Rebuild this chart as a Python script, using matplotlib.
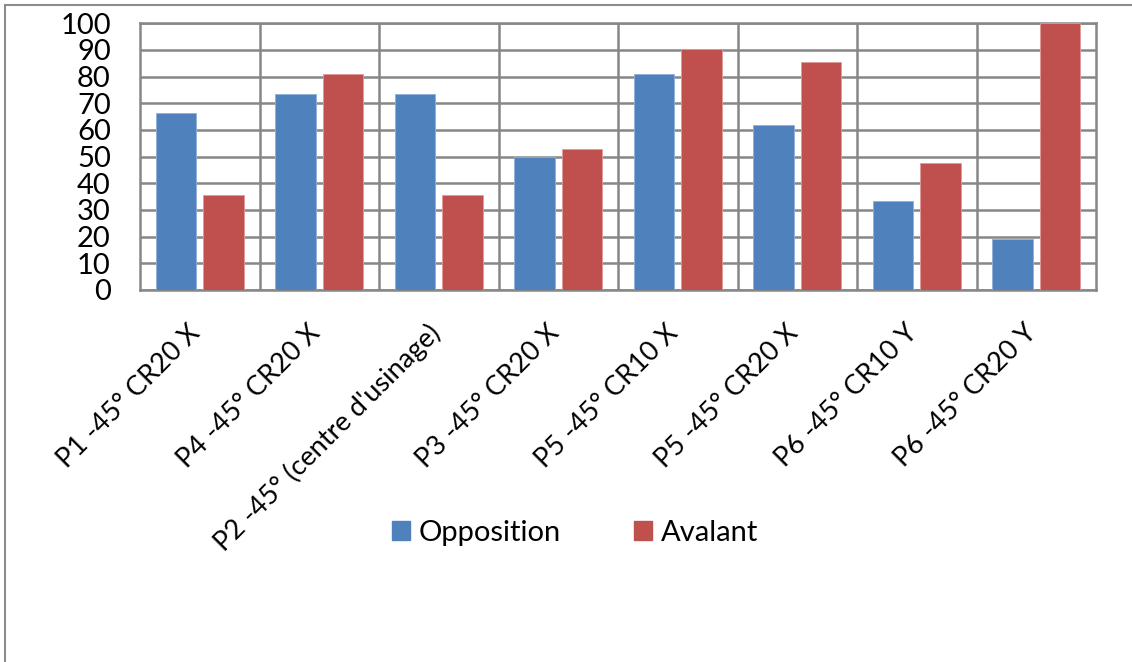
import matplotlib
matplotlib.use("Agg")
import matplotlib.pyplot as plt
import matplotlib.transforms as mtransforms
import numpy as np
from matplotlib.lines import Line2D
from matplotlib.patches import Patch

categories = ["P1 -45° CR20 X", "P4 -45° CR20 X", "P2 -45° (centre d'usinage)",
              "P3 -45° CR20 X", "P5 -45° CR10 X", "P5 -45° CR20 X",
              "P6 -45° CR10 Y", "P6 -45° CR20 Y"]
opposition = [66.5, 73.6, 73.6, 50.0, 80.9, 61.8, 33.3, 19.0]
avalant = [35.6, 80.9, 35.6, 52.7, 90.4, 85.6, 47.5, 100.0]
series_names = ["Opposition", "Avalant"]
yticks = list(range(0, 101, 10))

blue = "#4F81BD"
red = "#C0504D"
grid_c = "#878787"

plt.rcParams['font.family'] = ['Lato', 'DejaVu Sans']

fig = plt.figure(figsize=(11.32, 6.62), dpi=100)
ax = fig.add_axes([140/1132, 1-290/662, (1096-140)/1132, (290-23.3)/662])

x = np.arange(len(categories))
w = 0.34
ax.bar(x - 0.2, opposition, w, color=blue, edgecolor="#8FB0DA", linewidth=0.6, zorder=3)
ax.bar(x + 0.2, avalant, w, color=red, edgecolor="#E09A98", linewidth=0.6, zorder=3)

ax.set_xlim(-0.5, len(categories) - 0.5)
ax.set_ylim(0, 100)
ax.set_yticks(yticks)
ax.set_yticklabels([str(v) for v in yticks], fontsize=21)
ax.set_xticks(x)
ax.set_xticklabels(categories, fontsize=19.5, rotation=45, ha='right', rotation_mode='anchor')
ax.tick_params(axis='both', length=0)
ax.tick_params(axis='y', pad=21)
ax.tick_params(axis='x', pad=16)
offset = mtransforms.ScaledTranslation(-12/100, -8/100, fig.dpi_scale_trans)
for lab in ax.get_xticklabels():
    lab.set_transform(lab.get_transform() + offset)

# grid
ax.set_axisbelow(True)
ax.yaxis.grid(True, color=grid_c, linewidth=1.8)
for b in np.arange(0.5, len(categories) - 0.5, 1.0):
    ax.axvline(b, color=grid_c, linewidth=1.8, zorder=1)
for s in ax.spines.values():
    s.set_color(grid_c)
    s.set_linewidth(1.8)

handles = [Patch(color=blue), Patch(color=red)]
fig.legend(handles, series_names, loc='center', bbox_to_anchor=(575/1132, 1-533/662),
           ncol=2, frameon=False, fontsize=21, handlelength=0.62, handleheight=0.62,
           columnspacing=2.5, handletextpad=0.31, borderpad=0, borderaxespad=0)

# outer chart frame (top and left visible)
fig.add_artist(Line2D([4.5/1132, 1.0], [1-4.5/662, 1-4.5/662], transform=fig.transFigure,
                      color="#8C8C8C", linewidth=1.5))
fig.add_artist(Line2D([4.5/1132, 4.5/1132], [0, 1-4.5/662], transform=fig.transFigure,
                      color="#8C8C8C", linewidth=1.5))

fig.savefig("out.png", dpi=100, facecolor="white")
